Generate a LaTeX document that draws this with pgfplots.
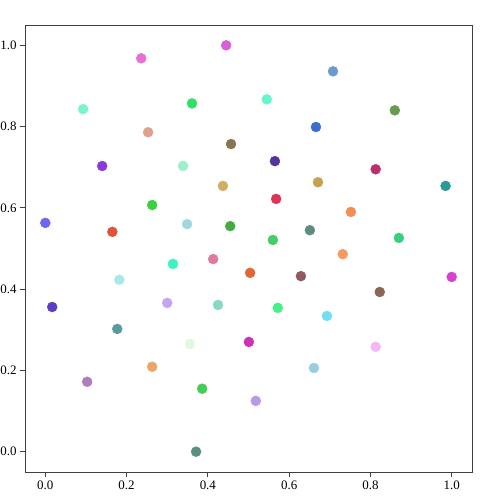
\documentclass[border=0pt]{standalone}
\usepackage{pgfplots}
\usepackage{fontspec}
\setmainfont{Liberation Serif}
\pgfplotsset{compat=1.18}

% one point: x, y, then its colour as R G B
\newcommand\pt[5]{\addplot[only marks, mark=*, mark size=5bp,
    color={rgb,255:red,#3;green,#4;blue,#5}] coordinates {(#1,#2)};}

\begin{document}
\begin{tikzpicture}
\path[use as bounding box] (-25bp,-26bp) rectangle (473bp,472bp);
\begin{axis}[
    at={(0,0)}, anchor=south west,
    scale only axis,
    width=447bp, height=447bp,
    xmin=-0.05, xmax=1.05, ymin=-0.05, ymax=1.05,
    xtick={0,0.2,0.4,0.6,0.8,1.0}, ytick={0,0.2,0.4,0.6,0.8,1.0},
    tick align=outside, tick pos=left,
    major tick length=5bp,
    axis line style={line width=0.8pt, black!75},
    every tick/.style={black!75, line width=0.8pt},
    tick label style={font=\fontsize{13}{15}\selectfont},
    xticklabel style={/pgf/number format/.cd, fixed, fixed zerofill, precision=1, assume math mode=true},
    yticklabel style={/pgf/number format/.cd, fixed, fixed zerofill, precision=1, assume math mode=true},
]
\pt{0.000}{0.563}{107}{104}{240}
\pt{0.017}{0.356}{95}{60}{196}
\pt{0.093}{0.843}{122}{245}{200}
\pt{0.103}{0.172}{176}{124}{192}
\pt{0.140}{0.703}{138}{58}{214}
\pt{0.165}{0.541}{224}{83}{58}
\pt{0.182}{0.423}{168}{232}{230}
\pt{0.177}{0.302}{90}{154}{160}
\pt{0.236}{0.968}{232}{111}{214}
\pt{0.253}{0.786}{224}{160}{144}
\pt{0.263}{0.607}{58}{209}{63}
\pt{0.263}{0.209}{232}{166}{106}
\pt{0.300}{0.366}{196}{166}{240}
\pt{0.314}{0.462}{58}{245}{192}
\pt{0.339}{0.703}{154}{240}{200}
\pt{0.349}{0.560}{160}{216}{220}
\pt{0.356}{0.265}{224}{248}{224}
\pt{0.361}{0.857}{46}{224}{102}
\pt{0.371}{0.000}{90}{144}{128}
\pt{0.386}{0.155}{68}{204}{85}
\pt{0.413}{0.474}{224}{122}{154}
\pt{0.425}{0.361}{136}{216}{200}
\pt{0.437}{0.654}{208}{176}{96}
\pt{0.445}{1.000}{216}{96}{216}
\pt{0.457}{0.757}{133}{117}{80}
\pt{0.455}{0.555}{68}{170}{68}
\pt{0.504}{0.440}{224}{104}{56}
\pt{0.501}{0.270}{208}{48}{184}
\pt{0.518}{0.125}{184}{152}{232}
\pt{0.545}{0.867}{102}{245}{204}
\pt{0.565}{0.715}{85}{51}{153}
\pt{0.568}{0.622}{224}{51}{85}
\pt{0.560}{0.521}{68}{204}{102}
\pt{0.572}{0.354}{68}{240}{136}
\pt{0.666}{0.799}{58}{112}{204}
\pt{0.671}{0.663}{200}{160}{80}
\pt{0.651}{0.545}{95}{138}{128}
\pt{0.629}{0.432}{144}{88}{96}
\pt{0.661}{0.206}{153}{204}{224}
\pt{0.708}{0.936}{106}{154}{208}
\pt{0.693}{0.334}{112}{224}{240}
\pt{0.732}{0.486}{248}{154}{96}
\pt{0.752}{0.590}{240}{144}{88}
\pt{0.813}{0.695}{184}{48}{112}
\pt{0.813}{0.258}{245}{184}{245}
\pt{0.823}{0.393}{138}{102}{85}
\pt{0.860}{0.840}{106}{154}{80}
\pt{0.870}{0.526}{58}{208}{128}
\pt{0.985}{0.654}{42}{154}{152}
\pt{1.000}{0.430}{216}{64}{208}
\end{axis}
\end{tikzpicture}
\end{document}
